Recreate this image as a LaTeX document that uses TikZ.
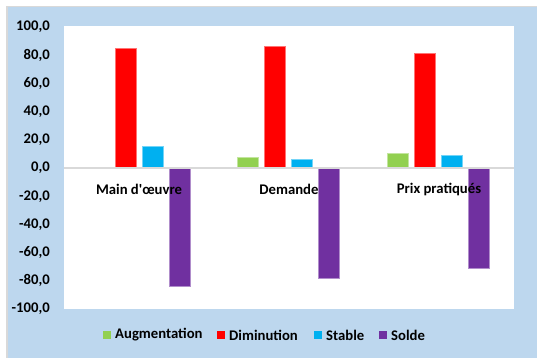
\documentclass[tikz,border=0pt]{standalone}
\usepackage{fontspec}
\setmainfont{Carlito}
\definecolor{bgblue}{HTML}{BDD7EE}
\definecolor{frame}{HTML}{D9D9D9}
\definecolor{cgreen}{HTML}{92D050}
\definecolor{cred}{HTML}{FF0000}
\definecolor{cblue}{HTML}{00B0F0}
\definecolor{cpurple}{HTML}{7030A0}
\begin{document}
\begin{tikzpicture}[x=1pt,y=-1pt,
  lbl/.style={font=\fontsize{14.7}{16}\selectfont\bfseries, inner sep=0pt},
  tick/.style={lbl, anchor=east},
  cat/.style={lbl, anchor=center},
  leg/.style={lbl, anchor=west},
  bar/.style={line width=0.6pt}]
\useasboundingbox (0,0) rectangle (537,358);
\fill[white] (0,0) rectangle (537,358);
\fill[frame] (6,6) rectangle (537,357.5);
\fill[bgblue] (7.5,7.5) rectangle (537,357.5);
\fill[white] (64,26) rectangle (514,309);
% ticks
\foreach \v/\t in {100/{100,0},80/{80,0},60/{60,0},40/{40,0},20/{20,0},0/{0,0},-20/{-20,0},-40/{-40,0},-60/{-60,0},-80/{-80,0},-100/{-100,0}}{
  \node[tick] at (50,{168-1.41*\v}) {\t};
}
% bars: group centers 139, 289, 439
\def\zy{168}
\newcommand{\onebar}[3]{% x-left, value, color
  \fill[#3, draw=#3!55!white, bar] (#1,\zy) rectangle ({#1+21},{\zy-1.41*#2});}
% group 1
\onebar{115}{85}{cred}
\onebar{142}{15.6}{cblue}
\onebar{169}{-84}{cpurple}
% group 2
\onebar{237}{7.8}{cgreen}
\onebar{264}{86.4}{cred}
\onebar{291}{6.4}{cblue}
\onebar{318}{-78.5}{cpurple}
% group 3
\onebar{387}{10.6}{cgreen}
\onebar{414}{81.5}{cred}
\onebar{441}{9.2}{cblue}
\onebar{468}{-71}{cpurple}
% zero axis
\draw[frame, line width=1.5pt] (64,168) coordinate (ax0) -- (514,168) coordinate (ax1);
% category labels
\node[cat] (c1) at (139,189) {Main d\textquotesingle œuvre};
\node[cat] (c2) at (289,189) {Demande};
\node[cat] (c3) at (439,189) {Prix pratiqués};
% legend
\fill[cgreen] (103,331) rectangle (111,339);
\node[leg] (l1) at (115,335) {Augmentation};
\fill[cred] (217,331) rectangle (225,339);
\node[leg] (l2) at (229,335) {Diminution};
\fill[cblue] (314,331) rectangle (322,339);
\node[leg] (l3) at (326,335) {Stable};
\fill[cpurple] (379,331) rectangle (387,339);
\node[leg] (l4) at (391,335) {Solde};
\end{tikzpicture}
\end{document}
